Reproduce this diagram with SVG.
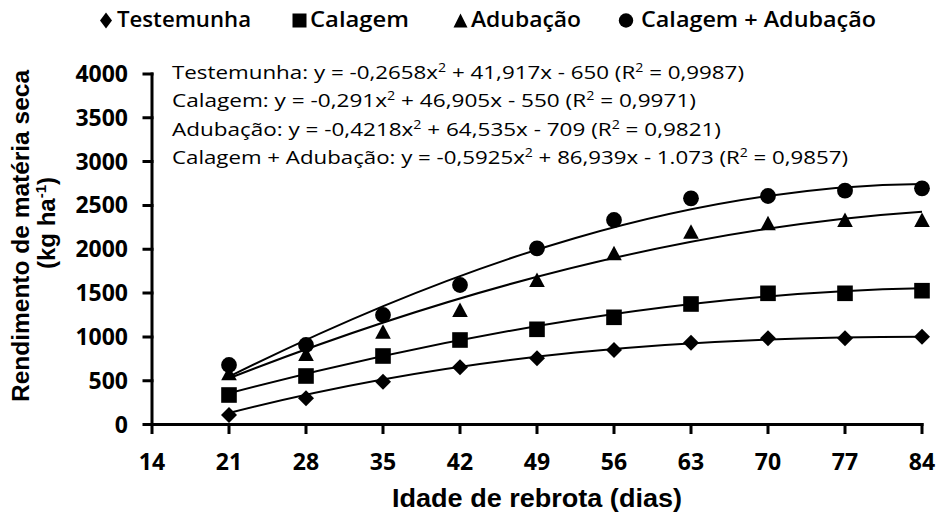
<svg xmlns="http://www.w3.org/2000/svg" xmlns:xlink="http://www.w3.org/1999/xlink" width="942" height="514" viewBox="0 0 942 514">
<style>
.ax{stroke:#000;stroke-width:3;fill:none;stroke-linecap:square}
.crv{stroke:#000;stroke-width:2;fill:none}
.tick{font-family:"Open Sans","Liberation Sans",sans-serif;font-weight:700;font-size:23px;fill:#000}
.leg{font-family:"Open Sans","Liberation Sans",sans-serif;font-weight:600;font-size:22px;fill:#000}
.eq{font-family:"Open Sans","Liberation Sans",sans-serif;font-weight:500;font-size:19px;fill:#000}
.ttl{font-family:"Liberation Sans",Arial,sans-serif;font-weight:700;fill:#000}
.m{fill:#000}
</style>
<defs>
<path id="dia" d="M0,-8 L8,0 L0,8 L-8,0Z"/>
<rect id="sq" x="-7.8" y="-7.8" width="15.6" height="15.6"/>
<path id="tri" d="M0,-7.5 L7.8,7 L-7.8,7Z"/>
<circle id="cir" r="7.9"/>
</defs>
<rect width="942" height="514" fill="#fff"/>

<g id="legend">
<path class="m" d="M106,12.5 L112,20.5 L106,28.5 L100,20.5Z"/>
<text class="leg" x="117" y="27" textLength="134" lengthAdjust="spacingAndGlyphs">Testemunha</text>
<rect class="m" x="292.5" y="13.5" width="14" height="14"/>
<text class="leg" x="310" y="27" textLength="99" lengthAdjust="spacingAndGlyphs">Calagem</text>
<path class="m" d="M460.5,13.5 L467.5,27.5 L453.5,27.5Z"/>
<text class="leg" x="471" y="27" textLength="110" lengthAdjust="spacingAndGlyphs">Adubação</text>
<circle class="m" cx="626" cy="20.5" r="7.2"/>
<text class="leg" x="641" y="27" textLength="235" lengthAdjust="spacingAndGlyphs">Calagem + Adubação</text>
</g>

<g id="equations">
<text class="eq" x="172" y="79" textLength="572" lengthAdjust="spacingAndGlyphs">Testemunha: y = -0,2658x<tspan font-size="12" dy="-7">2</tspan><tspan dy="7"> + 41,917x - 650 (R</tspan><tspan font-size="12" dy="-7">2</tspan><tspan dy="7"> = 0,9987)</tspan></text>
<text class="eq" x="172" y="107" textLength="524" lengthAdjust="spacingAndGlyphs">Calagem: y =  -0,291x<tspan font-size="12" dy="-7">2</tspan><tspan dy="7"> + 46,905x - 550 (R</tspan><tspan font-size="12" dy="-7">2</tspan><tspan dy="7"> = 0,9971)</tspan></text>
<text class="eq" x="172" y="136" textLength="549" lengthAdjust="spacingAndGlyphs">Adubação: y = -0,4218x<tspan font-size="12" dy="-7">2</tspan><tspan dy="7"> + 64,535x - 709 (R</tspan><tspan font-size="12" dy="-7">2</tspan><tspan dy="7"> = 0,9821)</tspan></text>
<text class="eq" x="172" y="164" textLength="676" lengthAdjust="spacingAndGlyphs">Calagem + Adubação: y = -0,5925x<tspan font-size="12" dy="-7">2</tspan><tspan dy="7"> + 86,939x - 1.073 (R</tspan><tspan font-size="12" dy="-7">2</tspan><tspan dy="7"> = 0,9857)</tspan></text>
</g>

<g id="axes">
<path class="ax" d="M152,74 V424.5 H922"/>
<path class="ax" d="M144,74 H152 M144,117.8 H152 M144,161.6 H152 M144,205.4 H152 M144,249.3 H152 M144,293.1 H152 M144,336.9 H152 M144,380.7 H152 M144,424.5 H152"/>
<path class="ax" d="M152,424.5 V432.5 M229,424.5 V432.5 M306,424.5 V432.5 M383,424.5 V432.5 M460,424.5 V432.5 M537,424.5 V432.5 M614,424.5 V432.5 M691,424.5 V432.5 M768,424.5 V432.5 M845,424.5 V432.5 M922,424.5 V432.5"/>
<g class="tick" text-anchor="end">
<text x="128" y="82">4000</text>
<text x="128" y="126">3500</text>
<text x="128" y="170">3000</text>
<text x="128" y="213">2500</text>
<text x="128" y="257">2000</text>
<text x="128" y="301">1500</text>
<text x="128" y="345">1000</text>
<text x="128" y="389">500</text>
<text x="128" y="433">0</text>
</g>
<g class="tick" text-anchor="middle">
<text x="152" y="470">14</text>
<text x="229" y="470">21</text>
<text x="306" y="470">28</text>
<text x="383" y="470">35</text>
<text x="460" y="470">42</text>
<text x="537" y="470">49</text>
<text x="614" y="470">56</text>
<text x="691" y="470">63</text>
<text x="768" y="470">70</text>
<text x="845" y="470">77</text>
<text x="922" y="470">84</text>
</g>
<text class="ttl" x="392" y="507" font-size="25" textLength="290" lengthAdjust="spacingAndGlyphs">Idade de rebrota (dias)</text>
<text class="ttl" font-size="24" text-anchor="middle" transform="translate(29,236) rotate(-90)" textLength="332" lengthAdjust="spacingAndGlyphs">Rendimento de matéria seca</text>
<text class="ttl" font-size="24" text-anchor="middle" transform="translate(55,223) rotate(-90)">(kg ha<tspan font-size="15" dy="-9">-1</tspan><tspan dy="9">)</tspan></text>
</g>

<g id="curves">
<path class="crv" d="M229,413 C460,353.2 691,336.9 922,336.7"/>
<path class="crv" d="M229,393.3 C460,332.35 691,292.85 922,288.3"/>
<path class="crv" d="M229,378.3 C460,287.7 691,227.3 922,211.7"/>
<path class="crv" d="M229,376.7 C460,261.5 691,186.1 922,184"/>
</g>

<g id="testemunha" class="m">
<use href="#dia" x="229" y="415"/><use href="#dia" x="306" y="398.3"/><use href="#dia" x="383" y="381.7"/><use href="#dia" x="460" y="367.3"/><use href="#dia" x="537" y="358.3"/><use href="#dia" x="614" y="350"/><use href="#dia" x="691" y="342.7"/><use href="#dia" x="768" y="338.3"/><use href="#dia" x="845" y="338.3"/><use href="#dia" x="922" y="336.7"/>
</g>
<g id="calagem" class="m">
<use href="#sq" x="229" y="395"/><use href="#sq" x="306" y="376"/><use href="#sq" x="383" y="356"/><use href="#sq" x="460" y="340"/><use href="#sq" x="537" y="329.3"/><use href="#sq" x="614" y="317.3"/><use href="#sq" x="691" y="304"/><use href="#sq" x="768" y="293.3"/><use href="#sq" x="845" y="293.3"/><use href="#sq" x="922" y="290.7"/>
</g>
<g id="adubacao" class="m">
<use href="#tri" x="229" y="373.3"/><use href="#tri" x="306" y="354"/><use href="#tri" x="383" y="331.7"/><use href="#tri" x="460" y="310"/><use href="#tri" x="537" y="280"/><use href="#tri" x="614" y="253.3"/><use href="#tri" x="691" y="231.7"/><use href="#tri" x="768" y="223.3"/><use href="#tri" x="845" y="220"/><use href="#tri" x="922" y="220"/>
</g>
<g id="calagem_adubacao" class="m">
<use href="#cir" x="229" y="365"/><use href="#cir" x="306" y="345"/><use href="#cir" x="383" y="315"/><use href="#cir" x="460" y="285"/><use href="#cir" x="537" y="248.3"/><use href="#cir" x="614" y="220"/><use href="#cir" x="691" y="198.3"/><use href="#cir" x="768" y="196"/><use href="#cir" x="845" y="190.7"/><use href="#cir" x="922" y="188.3"/>
</g>
</svg>
